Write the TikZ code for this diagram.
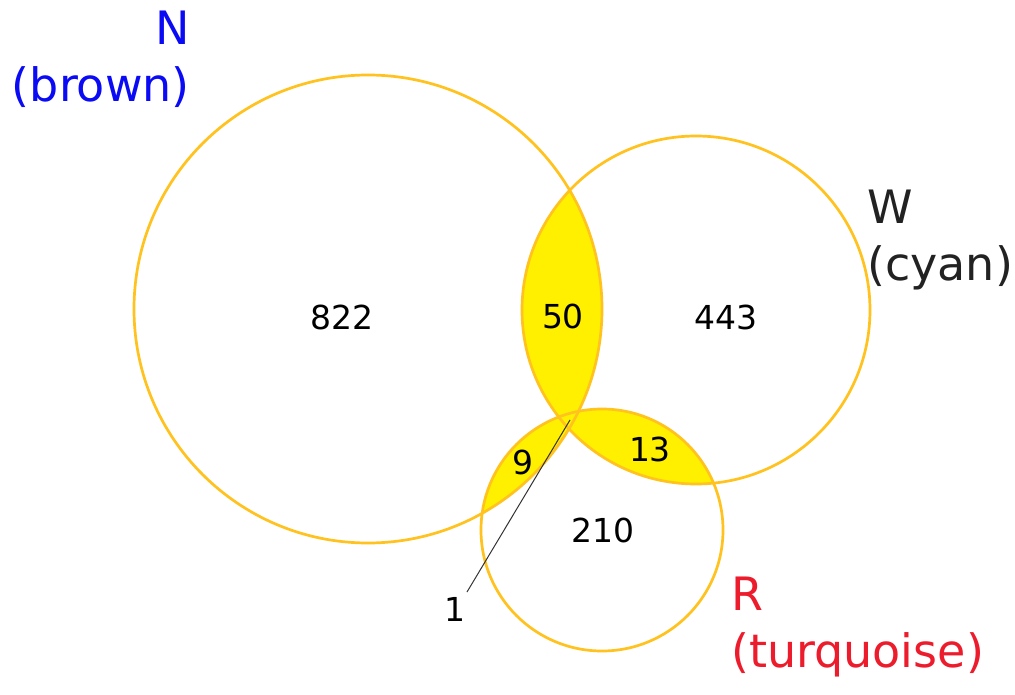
\documentclass[tikz,border=0pt]{standalone}
\usepackage{fontspec}
\setmainfont{DejaVu Sans}
\definecolor{ring}{HTML}{FFC21E}
\definecolor{lens}{HTML}{FFF000}
\definecolor{lblN}{HTML}{0A0AF5}
\definecolor{lblW}{HTML}{222222}
\definecolor{lblR}{HTML}{EC1C2C}
\tikzset{
  ringline/.style={draw=ring, line width=2.7pt},
  num/.style={font=\fontsize{33}{38}\selectfont, text=black, inner sep=0pt},
  setlabel/.style={font=\fontsize{46}{57}\selectfont, inner sep=0pt},
}
\begin{document}
\begin{tikzpicture}[x=1pt,y=-1pt]
\useasboundingbox (0,0) rectangle (1015,695);
\fill[white] (0,0) rectangle (1015,695);
\def\Ncirc{(368,309) circle [radius=234pt]}
\def\Wcirc{(696,310) circle [radius=174pt]}
\def\Rcirc{(602,530) circle [radius=121pt]}
\begin{scope}\clip \Ncirc; \fill[lens] \Wcirc; \end{scope}
\begin{scope}\clip \Ncirc; \fill[lens] \Rcirc; \end{scope}
\begin{scope}\clip \Wcirc; \fill[lens] \Rcirc; \end{scope}
\draw[ringline] \Ncirc;
\draw[ringline] \Wcirc;
\draw[ringline] \Rcirc;
\node[num] (n822) at (342,317) {822};
\node[num] (n50) at (563,316) {50};
\node[num] (n443) at (726,317) {443};
\node[num] (n9) at (523,462) {9};
\node[num] (n13) at (650,449) {13};
\node[num] (n210) at (603,530) {210};
\node[num] (n1) at (455,609) {1};
\coordinate (c1) at (570,420);
\coordinate (c1s) at (467,592);
\draw[black!80, line width=1pt] (c1s) -- (c1);
\node[setlabel, text=lblN, align=right, anchor=north east] (labN) at (190,11) {N\\(brown)};
\node[setlabel, text=lblW, align=left, anchor=north west] (labW) at (867,190) {W\\(cyan)};
\node[setlabel, text=lblR, align=left, anchor=north west] (labR) at (731,577) {R\\(turquoise)};
\end{tikzpicture}
\end{document}
